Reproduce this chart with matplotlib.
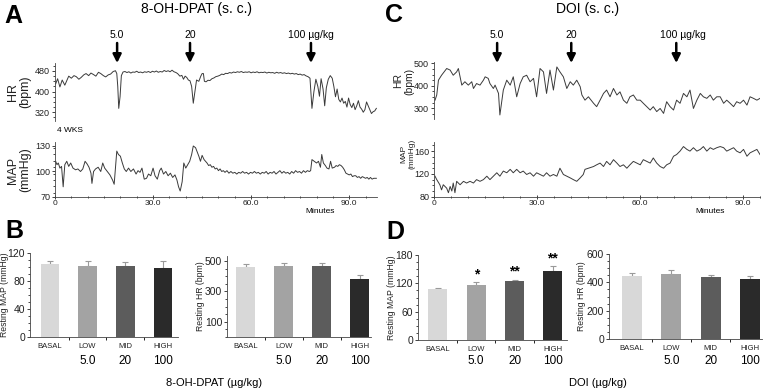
import matplotlib
matplotlib.use('Agg')
import matplotlib.pyplot as plt
from matplotlib.ticker import MultipleLocator, FixedLocator
import matplotlib.transforms as mtransforms

plt.rcParams['font.family'] = ['Liberation Sans', 'DejaVu Sans']

# ---- data ----
# A: 8-OH-DPAT trace, HR (bpm) and MAP (mmHg) vs minutes
a_t_hr = [0.2, 0.8, 1.5, 2.2, 3.0, 3.5, 4.2, 5.0, 5.8, 6.5, 7.3, 8.0, 8.8, 9.5, 10.3, 11.0, 11.8, 12.5,
          13.3, 14.0, 14.8, 15.5, 16.3, 17.0, 17.8, 18.5, 18.9, 19.2, 19.5, 19.9, 20.3,
          20.8, 21.4, 22.0, 22.6, 23.2, 23.8, 24.4, 25.0, 25.6, 26.2, 26.8, 27.4, 28.0, 28.6, 29.2,
          29.8, 30.4, 31.0, 31.6, 32.2, 32.8, 33.4, 34.0, 34.6, 35.2, 35.8, 36.4, 37.0, 37.5, 38.2,
          38.8, 39.3, 39.8, 40.3, 40.8, 41.3, 41.8, 42.3, 42.8, 43.3, 44.0, 44.6, 45.0, 45.4, 45.7,
          46.2, 46.8, 47.4, 48.0, 48.6, 49.2, 49.8, 50.4, 51.0, 51.6, 52.2, 52.8, 53.4, 54.0, 54.6,
          55.2, 55.8, 56.4, 57.0, 57.6, 58.2, 58.8, 59.4, 60.0, 60.6, 61.2, 61.8, 62.4, 63.0, 63.6,
          64.2, 64.8, 65.4, 66.0, 66.6, 67.2, 67.8, 68.4, 69.0, 69.6, 70.2, 70.8, 71.4, 72.0, 72.6,
          73.2, 73.8, 74.4, 75.0, 75.6, 76.2, 76.8, 77.4, 78.0, 78.6, 79.2, 79.8, 80.4, 80.9, 81.4,
          82.0, 82.5, 83.0, 83.6, 84.2, 84.8, 85.3, 85.8, 86.3, 86.8, 87.3, 87.8, 88.3, 88.8, 89.3,
          89.8, 90.3, 90.8, 91.3, 91.8, 92.3, 92.8, 93.3, 93.8, 94.3, 94.8, 95.3, 95.8, 96.3, 96.8,
          97.3, 97.8, 98.3]
a_hr = [430, 450, 418, 445, 425, 440, 460, 452, 462, 458, 448, 455, 465, 470, 462, 472, 466, 460,
        475, 470, 462, 457, 465, 468, 478, 481, 470, 420, 335, 380, 462,
        476, 478, 474, 477, 472, 476, 475, 479, 474, 476, 473, 477, 475, 478, 474,
        479, 476, 480, 475, 478, 476, 482, 478, 481, 477, 483, 477, 474, 470, 460,
        463, 448, 460, 455, 445, 442, 420, 355, 400, 445, 440, 460, 470, 470, 440,
        438, 444, 443, 450, 453, 458, 460, 463, 468, 466, 471, 470, 474, 472, 476,
        474, 477, 475, 478, 474, 476, 475, 477, 473, 476, 474, 477, 473, 475, 474,
        476, 472, 475, 473, 474, 471, 475, 472, 474, 471, 473, 470, 472, 469, 471,
        468, 470, 466, 468, 464, 466, 461, 458, 452, 335, 400, 448, 420, 382, 450,
        410, 345, 415, 448, 462, 452, 420, 380, 410, 370, 360, 375, 355, 362, 340,
        375, 350, 338, 355, 330, 345, 365, 340, 332, 320, 330, 360, 345, 330, 315,
        322, 325, 335]

a_t_map = [0.2, 0.6, 1.0, 1.5, 2.0, 2.5, 3.0, 3.6, 4.2, 4.8, 5.5, 6.3, 7.0, 7.8, 8.5, 9.2, 9.8, 10.4,
           11.0, 11.3, 11.8, 12.4, 13.2, 14.0, 14.6, 15.2, 16.0, 16.8, 17.6, 18.1, 18.6, 18.9, 19.4,
           20.0, 20.6, 21.2, 21.8, 22.5, 23.2, 24.0, 24.8, 25.4, 26.0, 26.6, 27.3, 28.0, 28.6, 29.3,
           30.0, 30.6, 31.3, 32.0, 32.5, 33.2, 33.9, 34.6, 35.3, 36.0, 36.7, 37.3, 37.8, 38.3, 38.9,
           39.4, 40.0, 40.6, 41.2, 41.8, 42.3, 43.0, 43.6, 44.0, 44.5, 45.0, 45.6,
           46.5, 47.0, 47.5, 48.0, 48.5, 49.0, 49.5, 50.0, 50.5, 51.0, 51.5, 52.0, 52.6, 53.2, 53.8,
           54.4, 55.0, 55.6, 56.2, 56.8, 57.4, 58.0, 58.6, 59.2, 59.8, 60.4, 61.0, 61.6, 62.2, 62.8,
           63.4, 64.0, 64.6, 65.2, 65.8, 66.4, 67.0, 67.6, 68.2, 68.8, 69.4, 70.0, 70.6, 71.2, 71.8,
           72.4, 73.0, 73.6, 74.2, 74.8, 75.4, 76.0, 76.6, 77.2, 77.8, 78.2, 78.6, 79.3, 80.0, 80.6,
           81.2, 81.6, 82.1, 82.7, 83.2, 83.8, 84.3, 84.8, 85.5, 86.0, 86.5, 87.0, 87.5, 88.0, 88.5,
           89.0, 89.5, 90.0, 90.5, 91.0, 91.5, 92.0, 92.5, 93.0, 93.5, 94.0, 94.5, 95.0, 95.5, 96.0,
           96.5, 97.0, 97.5, 98.3]
a_map = [112, 108, 110, 104, 106, 82, 108, 112, 106, 110, 104, 102, 103, 100, 103, 112, 109, 105,
         98, 86, 100, 103, 105, 100, 110, 104, 100, 96, 90, 85, 110, 124, 120,
         118, 110, 103, 100, 104, 100, 103, 97, 101, 99, 104, 91, 92, 97, 95,
         104, 95, 91, 101, 104, 97, 100, 95, 98, 93, 96, 90, 82, 77, 88,
         110, 104, 108, 112, 120, 130, 128, 122, 118, 112, 119, 114,
         110, 107, 108, 105, 106, 103, 104, 101, 103, 100, 101, 99, 101, 98, 100,
         98, 99, 97, 99, 98, 100, 98, 99, 97, 99, 98, 100, 98, 99, 97,
         99, 98, 100, 97, 99, 98, 100, 97, 99, 101, 98, 100, 98, 99, 97,
         100, 98, 101, 99, 100, 98, 101, 99, 101, 100, 101, 114, 112, 110, 112,
         105, 120, 110, 107, 104, 103, 112, 104, 105, 107, 106, 108, 107, 105, 102,
         98, 97, 96, 97, 94, 95, 95, 93, 94, 92, 94, 93, 92, 93, 91,
         93, 91, 92, 92]

# C: DOI trace
c_t_hr = [0.3, 0.8, 1.3, 2.2, 3.7, 4.7, 5.6, 6.6, 7.1, 7.6, 8.1, 9.0, 10.0, 11.0, 11.5, 12.4, 13.4,
          14.4, 14.9, 15.8, 16.3, 17.3, 17.8, 18.8, 19.2, 20.2, 21.2, 22.2, 23.1, 24.1, 25.1, 26.0,
          27.0, 28.0, 29.0, 29.9, 30.9, 31.9, 32.8, 33.8, 34.8, 35.8, 36.7, 37.7, 38.7, 39.7, 40.6,
          41.6, 42.6, 43.1, 44.0, 45.0, 46.5, 47.4, 48.4, 49.4, 50.3, 51.3, 52.3, 53.3, 54.2, 55.2,
          56.2, 57.1, 58.1, 59.1, 60.1, 61.0, 62.0, 63.0, 63.9, 64.9, 65.9, 66.9, 67.8, 68.8, 69.8,
          70.7, 71.7, 72.7, 73.7, 74.6, 75.6, 76.6, 77.6, 78.5, 79.5, 80.5, 81.4, 82.4, 83.4, 84.4,
          85.3, 86.3, 87.3, 88.2, 89.2, 90.2, 91.2, 92.1, 93.1, 94.1, 95.0]
c_hr = [336, 359, 425, 447, 477, 470, 447, 462, 477, 440, 403, 418, 403, 418, 388, 410, 403,
        425, 440, 433, 410, 388, 403, 366, 270, 381, 425, 403, 440, 351, 410, 440,
        447, 418, 433, 351, 477, 462, 366, 470, 381, 484, 462, 440, 388, 418, 403,
        425, 396, 359, 336, 351, 322, 307, 336, 366, 381, 351, 388, 359, 373, 336,
        322, 351, 359, 336, 336, 322, 307, 292, 307, 285, 299, 277, 329, 307, 292,
        336, 322, 366, 351, 381, 299, 336, 366, 351, 344, 359, 336, 351, 351, 322,
        336, 322, 307, 329, 322, 336, 314, 351, 344, 336, 344]

c_t_map = [0.3, 0.8, 1.7, 2.2, 2.7, 3.7, 4.2, 4.7, 5.2, 5.6, 6.1, 6.6, 7.6, 8.6, 9.5, 10.5, 11.5,
           12.4, 13.4, 14.4, 15.4, 16.3, 17.3, 18.3, 19.2, 20.2, 21.2, 22.2, 23.1, 24.1, 25.1, 26.0,
           27.0, 28.0, 29.0, 29.9, 30.9, 31.9, 32.8, 33.8, 34.8, 35.8, 36.7, 37.7, 38.7, 39.7, 40.6,
           41.6, 42.6, 43.5, 44.0, 45.0, 46.5, 47.4, 48.4, 49.4, 50.3, 51.3, 52.3, 53.3, 54.2, 55.2,
           56.2, 57.1, 58.1, 59.1, 60.1, 61.0, 62.0, 63.0, 63.9, 64.9, 65.9, 66.9, 67.8, 68.8, 69.8,
           70.7, 71.7, 72.7, 73.7, 74.6, 75.6, 76.6, 77.6, 78.5, 79.5, 80.5, 81.4, 82.4, 83.4, 84.4,
           85.3, 86.3, 87.3, 88.2, 89.2, 90.2, 91.2, 92.1, 93.1, 94.1, 95.0]
c_map = [116, 110, 101, 92, 101, 95, 87, 98, 90, 104, 87, 107, 101, 107, 104, 107, 104,
         110, 107, 110, 116, 110, 116, 122, 116, 125, 122, 128, 122, 128, 122, 125,
         119, 122, 116, 122, 119, 116, 122, 116, 119, 116, 130, 119, 116, 113, 110,
         107, 113, 119, 128, 130, 133, 136, 139, 133, 142, 136, 145, 139, 133, 136,
         130, 136, 142, 139, 136, 145, 142, 139, 148, 139, 133, 130, 136, 139, 151,
         154, 160, 168, 163, 160, 166, 160, 163, 168, 160, 166, 163, 166, 168, 166,
         160, 163, 166, 160, 157, 163, 151, 157, 160, 163, 154]

doses_a = [19.0, 41.3, 78.3]
doses_c = [18.4, 40.0, 70.6]
dose_labels = ['5.0', '20', '100 µg/kg']

# B / D: resting values
groups = ['BASAL', 'LOW', 'MID', 'HIGH']
dose_ticks = ['', '5.0', '20', '100']
bar_colors = ['#d8d8d8', '#a3a3a3', '#5c5c5c', '#2a2a2a']

dpat_map = [104, 102, 102, 99]
dpat_map_err = [5, 6, 5, 9]
dpat_hr = [460, 470, 470, 380]
dpat_hr_err = [22, 18, 18, 30]

doi_map = [107, 117, 124, 147]
doi_map_err = [4, 5, 4, 10]
doi_hr = [445, 462, 437, 423]
doi_hr_err = [22, 25, 18, 22]
doi_stars = ['', '*', '**', '**']

W, H = 771, 389
fig = plt.figure(figsize=(W / 100, H / 100), dpi=100)


def box(l, t, r, b):
    # pixel box (from top-left) -> figure fraction rect
    return [l / W, 1 - b / H, (r - l) / W, (b - t) / H]


def fx(x):
    return x / W


def fy(y):
    return 1 - y / H


def trace_axes(rect, t, y, xlim, ylim, yticks, ylab_pos, ylab, ylab_size, bottom):
    ax = fig.add_axes(box(*rect))
    ax.plot(t, y, color='#3a3a3a', lw=0.7)
    ax.set_xlim(*xlim)
    ax.set_ylim(*ylim)
    ax.set_yticks(yticks)
    ax.tick_params(axis='y', labelsize=6.5, length=2.5, width=0.6, pad=1, colors='#222222')
    ax.yaxis.set_minor_locator(MultipleLocator((yticks[1] - yticks[0]) / 4))
    ax.tick_params(axis='y', which='minor', length=1.5, width=0.5)
    for s in ['top', 'right']:
        ax.spines[s].set_visible(False)
    ax.spines['left'].set_linewidth(0.6)
    ax.spines['left'].set_color('#444444')
    if bottom:
        ax.spines['bottom'].set_linewidth(0.6)
        ax.spines['bottom'].set_color('#444444')
        ax.set_xticks([0, 30, 60, 90])
        ax.set_xticklabels(['0', '30.0', '60.0', '90.0'])
        ax.xaxis.set_minor_locator(MultipleLocator(5))
        ax.tick_params(axis='x', labelsize=6, length=2.5, width=0.6, pad=1, direction='inout',
                       colors='#222222')
        ax.tick_params(axis='x', which='minor', length=2, width=0.5, direction='inout')
    else:
        ax.spines['bottom'].set_visible(False)
        ax.set_xticks([])
    fig.text(fx(ylab_pos[0]), fy(ylab_pos[1]), ylab, rotation=90, ha='center', va='center',
             fontsize=ylab_size, linespacing=1.1, color='#222222')
    return ax


def add_arrows(ax, doses, lab_shift, arrow_top, arrow_tip, label_y):
    for d, lab, sh in zip(doses, dose_labels, lab_shift):
        ax.annotate('', xy=(d, fy(arrow_tip)), xytext=(d, fy(arrow_top)),
                    xycoords=('data', 'figure fraction'), textcoords=('data', 'figure fraction'),
                    arrowprops=dict(arrowstyle='-|>,head_length=0.5,head_width=0.25', lw=1.8,
                                    color='black', shrinkA=0, shrinkB=0),
                    annotation_clip=False)
        ax.annotate(lab, xy=(d + sh, fy(label_y)), xycoords=('data', 'figure fraction'),
                    ha='center', va='center', fontsize=7.5, annotation_clip=False)


def bar_axes(rect, vals, errs, xlim, ylim, yticks, ylabel, ylab_x, stars=None):
    ax = fig.add_axes(box(*rect))
    x = range(len(vals))
    ax.bar(x, vals, width=0.5, color=bar_colors, edgecolor='none', zorder=2)
    ax.errorbar(x, vals, yerr=[[0] * len(errs), errs], fmt='none', ecolor='#9a9a9a',
                elinewidth=0.8, capsize=2, capthick=0.8, zorder=1)
    ax.set_xlim(*xlim)
    ax.set_ylim(*ylim)
    ax.set_yticks(yticks)
    ax.yaxis.set_minor_locator(MultipleLocator((yticks[1] - yticks[0]) / 4))
    ax.tick_params(axis='y', labelsize=7.5, length=2.5, width=0.6, pad=1, colors='#222222')
    ax.tick_params(axis='y', which='minor', length=1.5, width=0.5)
    ax.set_xticks(list(x))
    ax.set_xticklabels(groups)
    ax.tick_params(axis='x', labelsize=5.5, length=0, pad=4, colors='#222222')
    ax.xaxis.set_minor_locator(FixedLocator([0.5, 1.5, 2.5]))
    ax.tick_params(axis='x', which='minor', length=2.5, width=0.6)
    for s in ['top', 'right']:
        ax.spines[s].set_visible(False)
    for s in ['left', 'bottom']:
        ax.spines[s].set_linewidth(0.6)
        ax.spines[s].set_color('#444444')
    # dose row under the group names
    trans = mtransforms.blended_transform_factory(ax.transData, fig.transFigure)
    for i, lab in enumerate(dose_ticks):
        ax.text(i, fy(361), lab, transform=trans, ha='center', va='center', fontsize=8.5)
    if stars:
        for i, s in enumerate(stars):
            if s:
                ax.text(i, vals[i] + errs[i] + ylim[1] * 0.01, s, ha='center', va='bottom',
                        fontsize=10, fontweight='bold')
    pos = ax.get_position()
    fig.text(fx(ylab_x), (pos.y0 + pos.y1) / 2, ylabel, rotation=90, ha='center',
             va='center', fontsize=6.2, color='#222222')
    return ax


# ---- A: 8-OH-DPAT ----
ax_a1 = trace_axes((55, 63, 377, 121), a_t_hr, a_hr, (0, 98.5), (286, 511), [320, 400, 480],
                   (19, 92), 'HR\n(bpm)', 9, False)
ax_a2 = trace_axes((55, 142, 377, 197), a_t_map, a_map, (0, 98.5), (70, 134.7), [70, 100, 130],
                   (19, 170), 'MAP\n(mmHg)', 9, True)
add_arrows(ax_a1, doses_a, [0, 0, 0], 43, 63, 35)
fig.text(fx(57), fy(131), '4 WKS', fontsize=6, va='center', ha='left')
fig.text(fx(320), fy(212), 'Minutes', fontsize=6, va='center', ha='center')
fig.text(fx(197), fy(9), '8-OH-DPAT (s. c.)', fontsize=10, ha='center', va='center')

# ---- C: DOI ----
ax_c1 = trace_axes((434, 62, 760, 119), c_t_hr, c_hr, (0, 95), (252, 506), [300, 400, 500],
                   (404, 81), 'HR\n(bpm)', 7.5, False)
ax_c2 = trace_axes((434, 142, 760, 197), c_t_map, c_map, (0, 95), (79.5, 176), [80, 120, 160],
                   (408, 154), 'MAP\n(mmHg)', 6, True)
add_arrows(ax_c1, doses_c, [0, 0, 1.8], 43, 63, 35)
fig.text(fx(710), fy(212), 'Minutes', fontsize=6, va='center', ha='center')
fig.text(fx(588), fy(9), 'DOI (s. c.)', fontsize=10, ha='center', va='center')

# ---- B: resting values, 8-OH-DPAT ----
bar_axes((30, 253, 178, 337), dpat_map, dpat_map_err, (-0.53, 3.4), (0, 120), [0, 40, 80, 120],
         'Resting MAP (mmHg)', 5)
bar_axes((227, 256, 371, 337), dpat_hr, dpat_hr_err, (-0.5, 3.3), (0, 533), [100, 300, 500],
         'Resting HR (bpm)', 200)
fig.text(fx(214), fy(383), '8-OH-DPAT (µg/kg)', fontsize=8, ha='center', va='center')

# ---- D: resting values, DOI ----
bar_axes((418, 255, 567, 340), doi_map, doi_map_err, (-0.52, 3.37), (0, 180), [0, 60, 120, 180],
         'Resting MAP (mmHg)', 392, stars=doi_stars)
bar_axes((609, 254, 762, 339), doi_hr, doi_hr_err, (-0.58, 3.3), (0, 600), [0, 200, 400, 600],
         'Resting HR (bpm)', 582)
fig.text(fx(598), fy(383), 'DOI (µg/kg)', fontsize=8, ha='center', va='center')

# panel letters
for lab, x, y in [('A', 13, 16), ('C', 394, 15), ('B', 14, 231), ('D', 395, 232)]:
    fig.text(fx(x), fy(y), lab, fontsize=18, fontweight='bold', ha='center', va='center')

fig.savefig('out.png', dpi=100)
